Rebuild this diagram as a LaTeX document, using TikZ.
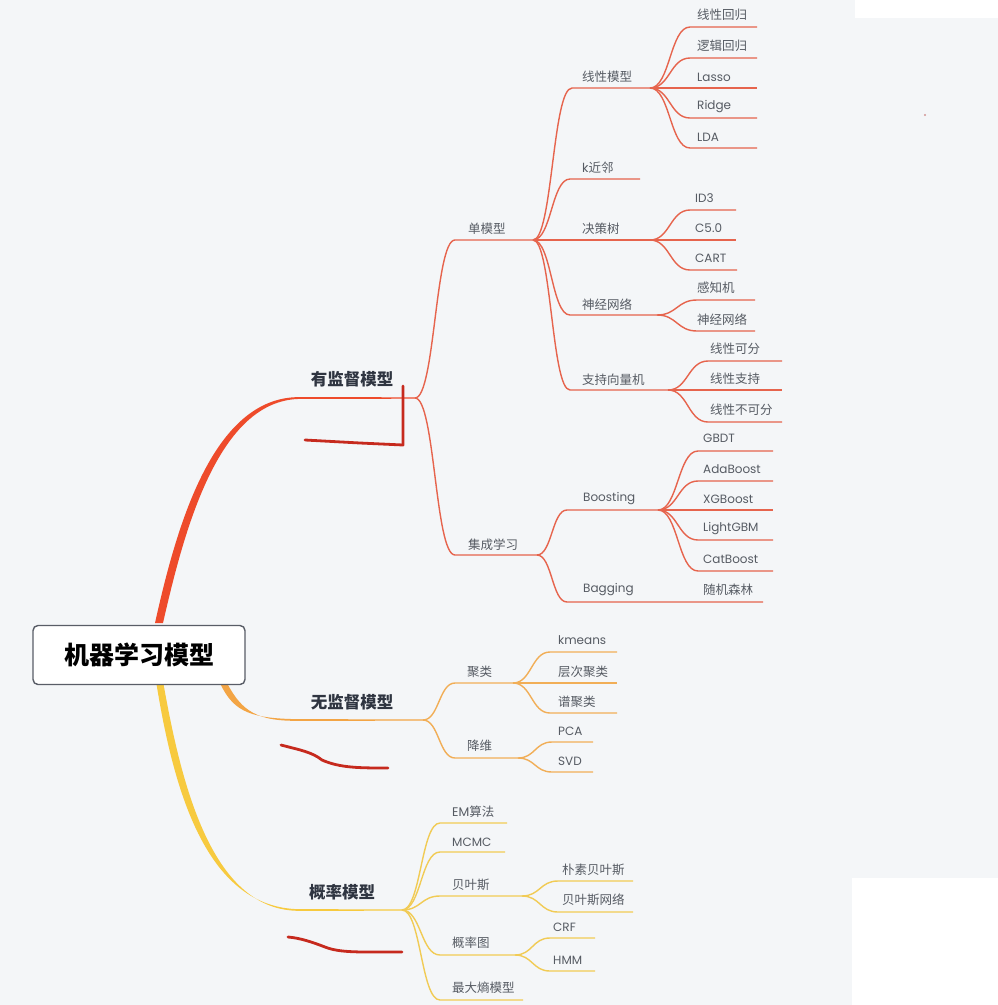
\documentclass[tikz,border=0pt]{standalone}
\usepackage{fontspec}
\newfontfamily\cjk{Noto Sans CJK SC}
\newfontfamily\lat{Poppins}
\usetikzlibrary{calc}
\definecolor{bgc}{HTML}{F4F6F8}
\definecolor{leafgray}{HTML}{565B63}
\definecolor{maingray}{HTML}{2F3541}
\definecolor{redb}{HTML}{EE4B2B}
\definecolor{redl}{HTML}{E6644D}
\definecolor{orab}{HTML}{F3A545}
\definecolor{oral}{HTML}{F1AE57}
\definecolor{yelb}{HTML}{F7CA3F}
\definecolor{yell}{HTML}{F1CB55}
\definecolor{markred}{HTML}{C62A1E}
\tikzset{
  cj/.style={font=\cjk\fontsize{12.5}{14}\selectfont, text=leafgray, inner sep=0pt},
  la/.style={font=\lat\fontsize{12}{14}\selectfont, text=leafgray, inner sep=0pt},
  mainlbl/.style={font=\cjk\bfseries\fontsize{16.5}{18}\selectfont, text=maingray, inner sep=0pt},
  rootbox/.style={draw=maingray!80, line width=1.4pt, fill=white, rounded corners=5pt,
    minimum width=212pt, minimum height=59pt, font=\cjk\bfseries\fontsize{25}{28}\selectfont, text=black},
  rline/.style={draw=redl, line width=1.4pt},
  oline/.style={draw=oral, line width=1.4pt},
  yline/.style={draw=yell, line width=1.4pt},
  markline/.style={draw=markred, line width=2.8pt, line cap=round, line join=round},
}
\newcommand{\mkline}[4]{\coordinate (#1s) at (#2,#4); \coordinate (#1e) at (#3,#4);}
\newcommand{\conn}[3]{%
  \path ($(#1)!0.5!(#2s)$) coordinate (mid);
  \draw[#3] (#1) .. controls (mid |- #1) and (mid |- #2s) .. (#2s) -- (#2e);}
\newcommand{\lbl}[4]{\node[#1,anchor=west] (#2) at (#3) {#4};}
\begin{document}
\begin{tikzpicture}[x=1pt,y=-1pt]
\useasboundingbox (0,0) rectangle (998,1005);
\fill[bgc] (0,0) rectangle (998,1005);
\fill[white] (852,878) rectangle (998,1005);
\fill[white] (855,0) rectangle (998,18);
\fill[red!40!gray!60] (925,115) circle (1.2pt);

% ---------------- main tapered branches ----------------
\coordinate (supe) at (415,398);
\coordinate (unse) at (423,720);
\coordinate (probe) at (402,910);
\fill[redb] (155,623) .. controls (176,529) and (212,396.2) .. (300,397.1) -- (415,397.3) -- (415,398.7) -- (300,398.9)
  .. controls (218,400) and (184,531) .. (163,623) -- cycle;
\fill[orab] (220.5,684) .. controls (234,713) and (253,718.6) .. (300,719.2) -- (423,719.3) -- (423,720.7) -- (300,720.8)
  .. controls (257,721.5) and (242,711) .. (227.5,684) -- cycle;
\fill[yelb] (156.5,684) .. controls (174,792) and (207,908.5) .. (300,909.2) -- (402,909.3) -- (402,910.7) -- (300,910.8)
  .. controls (213,911.7) and (182,788) .. (163.5,684) -- cycle;

% ---------------- root ----------------
\node[rootbox] (root) at (139,655) {机器学习模型};

% ---------------- supervised ----------------
\node[mainlbl] (t-sup) at (352,379) {有监督模型};
\mkline{single}{455}{533}{240}
\mkline{ens}{455}{537}{555}
\conn{supe}{single}{rline}
\conn{supe}{ens}{rline}
\lbl{cj}{t-single}{468,229}{单模型}
\lbl{cj}{t-ens}{468,545}{集成学习}

\mkline{lin}{572}{650}{88}
\mkline{knn}{570}{640}{179}
\mkline{dt}{570}{650}{240}
\mkline{nn}{570}{657}{315}
\mkline{svm}{570}{668}{390}
\foreach \c in {lin,knn,dt,nn,svm}{\conn{singlee}{\c}{rline}}
\lbl{cj}{t-lin}{582,77}{线性模型}
\lbl{cj}{t-knn}{582,168}{{\lat k}近邻}
\lbl{cj}{t-dt}{582,229}{决策树}
\lbl{cj}{t-nn}{582,305}{神经网络}
\lbl{cj}{t-svm}{582,380}{支持向量机}

\mkline{linA}{690}{757}{27}
\mkline{linB}{690}{757}{58}
\mkline{linC}{690}{757}{88}
\mkline{linD}{690}{757}{118}
\mkline{linE}{690}{757}{148}
\foreach \c in {linA,linB,linC,linD,linE}{\conn{line}{\c}{rline}}
\lbl{cj}{t-linA}{697,15}{线性回归}
\lbl{cj}{t-linB}{697,46}{逻辑回归}
\lbl{la}{t-linC}{697,77}{Lasso}
\lbl{la}{t-linD}{697,107}{Ridge}
\lbl{la}{t-linE}{697,137}{LDA}

\mkline{dtA}{690}{736}{210}
\mkline{dtB}{690}{736}{240}
\mkline{dtC}{690}{737}{270}
\foreach \c in {dtA,dtB,dtC}{\conn{dte}{\c}{rline}}
\lbl{la}{t-dtA}{695,198}{ID3}
\lbl{la}{t-dtB}{695,228}{C5.0}
\lbl{la}{t-dtC}{695,258}{CART}

\mkline{nnA}{697}{755}{300}
\mkline{nnB}{697}{755}{331}
\foreach \c in {nnA,nnB}{\conn{nne}{\c}{rline}}
\lbl{cj}{t-nnA}{697,288}{感知机}
\lbl{cj}{t-nnB}{697,320}{神经网络}

\mkline{svmA}{708}{782}{361}
\mkline{svmB}{708}{782}{390}
\mkline{svmC}{708}{782}{422}
\foreach \c in {svmA,svmB,svmC}{\conn{svme}{\c}{rline}}
\lbl{cj}{t-svmA}{710,349}{线性可分}
\lbl{cj}{t-svmB}{710,379}{线性支持}
\lbl{cj}{t-svmC}{710,410}{线性不可分}

\mkline{boost}{567}{658}{510}
\mkline{bag}{567}{763}{602}
\foreach \c in {boost,bag}{\conn{ense}{\c}{rline}}
\lbl{la}{t-boost}{583,499}{Boosting}
\lbl{la}{t-bag}{583,590}{Bagging}
\lbl{cj}{t-rf}{703,590}{随机森林}

\mkline{bA}{698}{773}{451}
\mkline{bB}{698}{773}{481}
\mkline{bC}{698}{773}{510}
\mkline{bD}{698}{773}{540}
\mkline{bE}{698}{773}{571}
\foreach \c in {bA,bB,bC,bD,bE}{\conn{booste}{\c}{rline}}
\lbl{la}{t-bA}{703,438}{GBDT}
\lbl{la}{t-bB}{703,469}{AdaBoost}
\lbl{la}{t-bC}{703,499}{XGBoost}
\lbl{la}{t-bD}{703,529}{LightGBM}
\lbl{la}{t-bE}{703,559}{CatBoost}

% ---------------- unsupervised ----------------
\node[mainlbl] (t-uns) at (352,702) {无监督模型};
\mkline{clus}{455}{513}{683}
\mkline{dim}{455}{518}{758}
\foreach \c in {clus,dim}{\conn{unse}{\c}{oline}}
\lbl{cj}{t-clus}{467,672}{聚类}
\lbl{cj}{t-dim}{467,746}{降维}

\mkline{cA}{550}{617}{652}
\mkline{cB}{550}{617}{683}
\mkline{cC}{550}{617}{713}
\foreach \c in {cA,cB,cC}{\conn{cluse}{\c}{oline}}
\lbl{la}{t-cA}{558,640}{kmeans}
\lbl{cj}{t-cB}{558,672}{层次聚类}
\lbl{cj}{t-cC}{558,702}{谱聚类}

\mkline{dA}{552}{593}{742}
\mkline{dB}{552}{593}{772}
\foreach \c in {dA,dB}{\conn{dime}{\c}{oline}}
\lbl{la}{t-dA}{558,731}{PCA}
\lbl{la}{t-dB}{558,761}{SVD}

% ---------------- probabilistic ----------------
\node[mainlbl] (t-prob) at (342,892) {概率模型};
\mkline{em}{440}{507}{823}
\mkline{mcmc}{440}{505}{852}
\mkline{bay}{440}{522}{896}
\mkline{pg}{440}{515}{955}
\mkline{me}{440}{523}{1000}
\foreach \c in {em,mcmc,bay,pg,me}{\conn{probe}{\c}{yline}}
\lbl{cj}{t-em}{452,812}{{\lat EM}算法}
\lbl{la}{t-mcmc}{452,842}{MCMC}
\lbl{cj}{t-bay}{452,885}{贝叶斯}
\lbl{cj}{t-pg}{452,943}{概率图}
\lbl{cj}{t-me}{452,988}{最大熵模型}

\mkline{yA}{558}{633}{881}
\mkline{yB}{558}{633}{912}
\foreach \c in {yA,yB}{\conn{baye}{\c}{yline}}
\lbl{cj}{t-yA}{562,870}{朴素贝叶斯}
\lbl{cj}{t-yB}{562,900}{贝叶斯网络}

\mkline{gA}{550}{595}{938}
\mkline{gB}{550}{595}{971}
\foreach \c in {gA,gB}{\conn{pge}{\c}{yline}}
\lbl{la}{t-gA}{553,927}{CRF}
\lbl{la}{t-gB}{553,960}{HMM}

% ---------------- hand-drawn marks ----------------
\draw[markline] (403,386) -- (403,445) -- (360,443) -- (305,440);
\draw[markline] (281,745) .. controls (300,750) and (312,752) .. (322,760) .. controls (340,768) and (360,768) .. (388,768);
\draw[markline] (288,937) .. controls (300,938) and (312,942) .. (325,947) .. controls (340,953) and (360,952) .. (402,952);
\end{tikzpicture}
\end{document}
